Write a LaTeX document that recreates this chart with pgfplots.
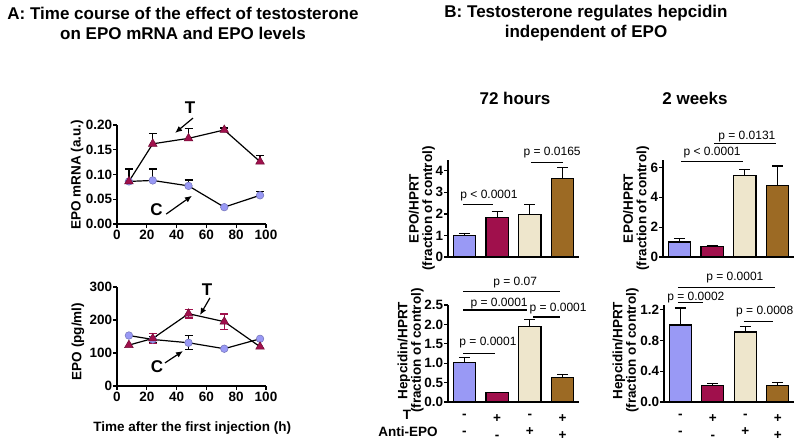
\documentclass[border=0pt]{standalone}
\usepackage{fontspec}
\setmainfont{Liberation Sans}
\usepackage{pgfplots}
\pgfplotsset{compat=1.18}
\usetikzlibrary{arrows.meta}
\definecolor{cblue}{RGB}{153,153,245}
\definecolor{cmar}{RGB}{160,16,76}
\definecolor{ccream}{RGB}{238,230,204}
\definecolor{cbrown}{RGB}{156,106,36}
\newcommand\fsz[2]{\fontsize{#1}{#2}\selectfont}
\tikzset{
  pline/.style={line width=1.2pt},
  ptext/.style={font=\fsz{12}{12}},
  arr/.style={-{Latex[length=7pt,width=6pt]}, line width=1.2pt},
  tclab/.style={font=\bfseries\fsz{17}{17}},
}
\pgfplotsset{
  gp/.style={scale only axis, anchor=south west, axis x line=bottom, axis y line=left,
    axis line style={-, line width=1.3pt}, tick align=outside, major tick length=4pt,
    tick style={black, line width=1.3pt}, /pgf/number format/assume math mode=true,
    ticklabel style={font=\bfseries\fsz{13.5}{15}},
    yticklabel style={inner sep=0.6pt},
    xticklabel style={inner sep=2pt},
    label style={font=\bfseries\fsz{13.5}{13.5}, align=center}, clip=false},
  gpbar/.style={gp, xmin=0.5, xmax=4.5, ymin=0, xtick style={draw=none}},
  bbar/.style={ybar, bar width=0.68, bar shift=0pt, draw=black, line width=1.2pt, fill=#1,
    error bars/.cd, y dir=plus, y explicit, error bar style={black, line width=1.2pt},
    error mark=|, error mark options={black, line width=1.2pt, mark size=5.5pt}},
  emk/.style={error bars/.cd, y dir=#1, y explicit, error mark=|},
}
\begin{document}
\begin{tikzpicture}
\fill[white] (0,0) rectangle (800pt,-443pt);
\path[use as bounding box] (0,0) rectangle (800pt,-443pt);

\node[align=center, font=\bfseries\fsz{17}{20}] at (183pt,-23pt) {A: Time course of the effect of testosterone\\on EPO mRNA and EPO levels};
\node[align=center, font=\bfseries\fsz{17}{20}] at (586pt,-23pt) {B: Testosterone regulates hepcidin\\independent of EPO};
\node[font=\bfseries\fsz{17}{20}] at (515pt,-98pt) {72 hours};
\node[font=\bfseries\fsz{17}{20}] at (695pt,-98pt) {2 weeks};

% ---------- A top: EPO mRNA
\begin{axis}[gp, at={(117pt,-224pt)}, width=149pt, height=99pt,
  xmin=0, xmax=100, ymin=0, ymax=0.2, xtick={0,20,40,60,80,100},
  ytick={0,0.05,0.10,0.15,0.20},
  yticklabel style={/pgf/number format/.cd, fixed, fixed zerofill, precision=2},
  ylabel={EPO mRNA (a.u.)},
  ylabel style={at={(axis description cs:-0.268,0.5)}, anchor=center}]
\addplot[only marks, mark=none, emk=plus,
  error bar style={black, line width=1.2pt}, error mark options={black, line width=1.2pt, mark size=4pt}]
  table[y error=e] {
x y e
8 0.086 0.025
24 0.088 0.023
48 0.077 0.012
96 0.058 0.008
};
\addplot[black, pline, mark=*, mark size=3.8pt, mark options={fill=cblue, draw=cblue!75!black, line width=0.5pt}]
  table {
x y
8 0.086
24 0.088
48 0.077
72 0.034
96 0.058
};
\addplot[only marks, mark=none, emk=plus,
  error bar style={black, line width=1.2pt}, error mark options={black, line width=1.2pt, mark size=4pt}]
  table[y error=e] {
x y e
24 0.162 0.021
48 0.173 0.020
72 0.190 0.004
96 0.126 0.012
};
\addplot[black, pline, mark=triangle*, mark size=5pt, mark options={fill=cmar, draw=cmar!70!black, line width=0.5pt}]
  table {
x y
8 0.086
24 0.162
48 0.173
72 0.190
96 0.126
};
\node[tclab] at (axis cs:49,0.236) {T};
\draw[arr] (axis cs:51,0.214) -- (axis cs:39,0.184);
\node[tclab] at (axis cs:26.5,0.028) {C};
\draw[arr] (axis cs:33,0.020) -- (axis cs:50.3,0.057);
\end{axis}

% ---------- A bottom: EPO serum
\begin{axis}[gp, at={(117pt,-386pt)}, width=149pt, height=99pt,
  xmin=0, xmax=100, ymin=0, ymax=300, xtick={0,20,40,60,80,100},
  ytick={0,100,200,300},
  ylabel={EPO (pg/ml)},
  ylabel style={at={(axis description cs:-0.262,0.45)}, anchor=center},
  xlabel={Time after the first injection (h)},
  xlabel style={at={(axis description cs:0.505,-0.425)}, anchor=center}]
\addplot[only marks, mark=none, emk=both,
  error bar style={black, line width=1.2pt}, error mark options={black, line width=1.2pt, mark size=4pt}]
  table[y error=e] {
x y e
24 141 10
48 131 21
};
\addplot[black, pline, mark=*, mark size=3.8pt, mark options={fill=cblue, draw=cblue!75!black, line width=0.5pt}]
  table {
x y
8 153
24 141
48 131
72 113
96 143
};
\addplot[only marks, mark=none, emk=both,
  error bar style={cmar, line width=1.2pt}, error mark options={cmar, line width=1.2pt, mark size=4pt}]
  table[y error=e] {
x y e
24 144 16
48 219 13
72 195 23
};
\addplot[black, pline, mark=triangle*, mark size=5pt, mark options={fill=cmar, draw=cmar!70!black, line width=0.5pt}]
  table {
x y
8 124
24 144
48 219
72 195
96 119
};
\node[tclab] at (axis cs:60.4,291) {T};
\draw[arr] (axis cs:62.4,267) -- (axis cs:55.7,215);
\node[tclab] at (axis cs:26.8,58) {C};
\draw[arr] (axis cs:32.2,70) -- (axis cs:44.3,106);
\end{axis}

% ---------- B 72h EPO
\begin{axis}[gpbar, at={(448pt,-257pt)}, width=131pt, height=97pt,
  ymax=4.5, xtick=\empty, ytick={0,1,2,3,4},
  ylabel={EPO/HPRT\\(fraction of control)},
  ylabel style={at={(axis description cs:-0.2,0.5)}, anchor=center}]
\addplot[bbar=cblue] coordinates {(1,1.01) +- (0,0.09)};
\addplot[bbar=cmar] coordinates {(2,1.85) +- (0,0.26)};
\addplot[bbar=ccream] coordinates {(3,1.99) +- (0,0.44)};
\addplot[bbar=cbrown] coordinates {(4,3.66) +- (0,0.51)};
\draw[pline] (axis cs:0.96,2.42) -- (axis cs:1.87,2.42);
\node[ptext] at (axis cs:1.75,2.84) {p < 0.0001};
\draw[pline] (axis cs:3.03,4.4) -- (axis cs:4.01,4.4);
\node[ptext] at (axis cs:3.68,4.84) {p = 0.0165};
\end{axis}

% ---------- B 2w EPO
\begin{axis}[gpbar, at={(663pt,-257pt)}, width=131pt, height=97pt,
  ymax=6.5, xtick=\empty, ytick={0,2,4,6},
  ylabel={EPO/HPRT\\(fraction of control)},
  ylabel style={at={(axis description cs:-0.205,0.5)}, anchor=center}]
\addplot[bbar=cblue] coordinates {(1,1.0) +- (0,0.23)};
\addplot[bbar=cmar] coordinates {(2,0.69) +- (0,0.07)};
\addplot[bbar=ccream] coordinates {(3,5.46) +- (0,0.38)};
\addplot[bbar=cbrown] coordinates {(4,4.77) +- (0,1.33)};
\draw[pline] (axis cs:1.05,6.38) -- (axis cs:2.93,6.38);
\node[ptext] at (axis cs:2.0,6.98) {p < 0.0001};
\draw[pline] (axis cs:2.06,7.58) -- (axis cs:3.95,7.58);
\node[ptext] at (axis cs:3.06,8.05) {p = 0.0131};
\end{axis}

% ---------- B 72h hepcidin
\begin{axis}[gpbar, at={(448pt,-402pt)}, width=131pt, height=97pt,
  ymax=2.5, ytick={0,0.5,1.0,1.5,2.0,2.5},
  yticklabel style={/pgf/number format/.cd, fixed, fixed zerofill, precision=1},
  xtick={1,2,3,4}, xticklabels={{-\\-},{+\\-},{-\\+},{+\\+}},
  xticklabel style={align=center, font=\bfseries\fsz{13.5}{17}, yshift=-6pt},
  ylabel={Hepcidin/HPRT\\(fraction of control)},
  ylabel style={at={(axis description cs:-0.285,0.53)}, anchor=center}]
\addplot[bbar=cblue] coordinates {(1,1.01) +- (0,0.13)};
\addplot[bbar=cmar] coordinates {(2,0.24) +- (0,0.01)};
\addplot[bbar=ccream] coordinates {(3,1.94) +- (0,0.19)};
\addplot[bbar=cbrown] coordinates {(4,0.64) +- (0,0.06)};
\draw[pline] (axis cs:0.96,1.26) -- (axis cs:1.94,1.26);
\node[ptext] at (axis cs:1.72,1.52) {p = 0.0001};
\draw[pline] (axis cs:0.96,2.37) -- (axis cs:2.91,2.37);
\node[ptext] at (axis cs:2.06,2.55) {p = 0.0001};
\draw[pline] (axis cs:3.1,2.19) -- (axis cs:3.92,2.19);
\node[ptext] at (axis cs:3.86,2.40) {p = 0.0001};
\draw[pline] (axis cs:0.96,2.84) -- (axis cs:3.92,2.84);
\node[ptext] at (axis cs:2.55,3.07) {p = 0.07};
\end{axis}

% ---------- B 2w hepcidin
\begin{axis}[gpbar, at={(664pt,-402pt)}, width=130pt, height=97pt,
  ymax=1.26, ytick={0,0.4,0.8,1.2},
  yticklabel style={/pgf/number format/.cd, fixed, fixed zerofill, precision=1},
  xtick={1,2,3,4}, xticklabels={{-\\-},{+\\-},{-\\+},{+\\+}},
  xticklabel style={align=center, font=\bfseries\fsz{13.5}{17}, yshift=-6pt},
  ylabel={Hepcidin/HPRT\\(fraction of control)},
  ylabel style={at={(axis description cs:-0.295,0.53)}, anchor=center}]
\addplot[bbar=cblue] coordinates {(1,1.0) +- (0,0.22)};
\addplot[bbar=cmar] coordinates {(2,0.21) +- (0,0.03)};
\addplot[bbar=ccream] coordinates {(3,0.91) +- (0,0.07)};
\addplot[bbar=cbrown] coordinates {(4,0.21) +- (0,0.04)};
\draw[pline] (axis cs:0.93,1.29) -- (axis cs:1.70,1.29);
\node[ptext] at (axis cs:1.48,1.36) {p = 0.0002};
\draw[pline] (axis cs:0.93,1.49) -- (axis cs:3.92,1.49);
\node[ptext] at (axis cs:2.68,1.61) {p = 0.0001};
\draw[pline] (axis cs:2.96,1.05) -- (axis cs:3.85,1.05);
\node[ptext] at (axis cs:3.6,1.17) {p = 0.0008};
\end{axis}

\node[font=\bfseries\fsz{13.5}{14}] at (407pt,-415pt) {T};
\node[font=\bfseries\fsz{13.5}{14}] at (408pt,-432pt) {Anti-EPO};
\end{tikzpicture}
\end{document}
